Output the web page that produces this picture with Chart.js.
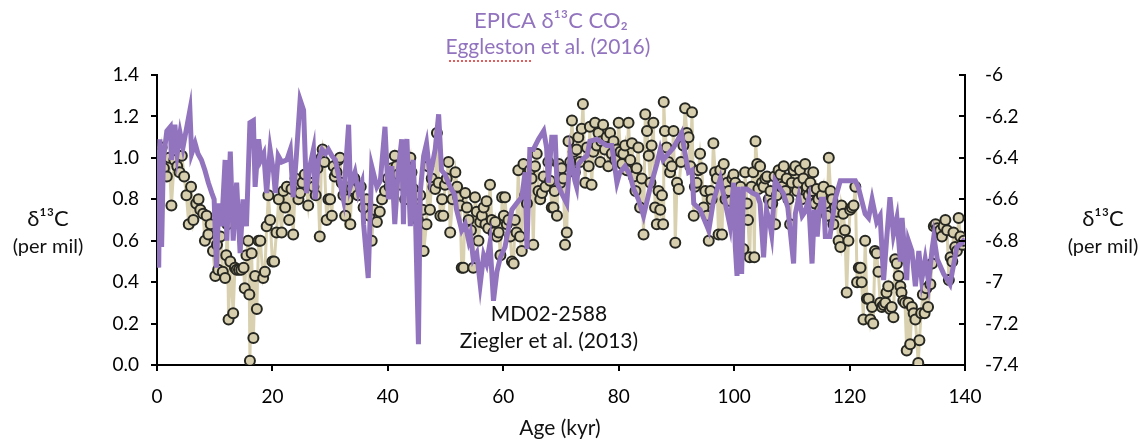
<!DOCTYPE html>
<html>
<head>
<meta charset="utf-8">
<script src="https://cdn.jsdelivr.net/npm/chart.js@4.4.0/dist/chart.umd.min.js"></script>
<style>
  html, body { margin: 0; padding: 0; background: #fff; }
  #wrap { width: 1139px; height: 439px; }
</style>
</head>
<body>
<div id="wrap"><canvas id="grafico" width="1139" height="439"></canvas></div>
<script>
// MD02-2588 (Ziegler et al. 2013), left axis
const mdAge = [0.0,0.4,0.8,1.2,1.7,2.1,2.5,3.0,3.5,3.9,4.3,4.7,5.1,5.5,5.9,6.3,6.8,7.2,7.5,8.0,8.3,8.6,8.9,9.3,9.7,10.1,10.4,10.6,11.0,11.4,11.8,12.0,12.2,12.4,12.7,13.2,13.5,13.8,14.2,14.6,15.0,15.2,15.5,15.8,16.0,16.1,16.4,16.7,17.0,17.3,17.6,17.9,18.4,18.7,19.0,19.3,19.6,20.0,20.3,20.7,21.1,21.6,21.9,22.2,22.5,22.9,23.3,23.6,24.0,24.5,24.8,25.2,25.6,26.2,26.6,27.1,27.5,27.8,28.2,28.5,28.7,29.0,29.4,29.7,30.0,30.3,30.6,30.8,31.1,31.4,31.7,32.0,32.3,32.6,33.0,33.5,33.7,34.2,34.8,35.3,35.8,36.3,36.8,37.2,37.6,38.1,38.6,39.0,39.5,40.0,40.3,40.7,41.2,41.5,41.8,42.2,42.6,43.0,43.5,43.9,44.1,44.4,44.8,45.2,45.6,46.0,46.2,46.7,47.0,47.3,47.6,47.9,48.2,48.5,48.8,49.1,49.4,49.6,49.9,50.2,50.5,50.8,51.2,51.7,52.0,52.2,52.5,52.8,53.1,53.4,53.7,54.0,54.4,54.8,55.1,55.4,55.7,56.0,56.3,56.6,56.9,57.1,57.4,57.7,58.0,58.3,58.6,58.9,59.2,59.5,59.8,60.1,60.3,60.6,60.9,61.2,61.5,61.8,62.0,62.3,62.6,62.9,63.2,63.5,63.8,64.1,64.6,64.9,65.2,65.5,65.8,66.1,66.4,66.7,67.0,67.3,67.8,68.1,68.4,68.7,68.9,69.3,69.6,69.9,70.1,70.4,70.7,71.0,71.3,71.6,71.9,72.2,72.4,72.7,73.0,73.3,73.6,73.8,74.2,74.5,74.8,75.0,75.3,75.6,75.9,76.2,76.5,76.8,77.0,77.3,77.6,77.9,78.2,78.5,78.8,79.1,79.4,79.7,80.0,80.3,80.6,80.8,81.1,81.4,81.7,82.0,82.3,82.6,82.9,83.1,83.4,83.7,84.0,84.3,84.6,84.9,85.2,85.5,85.7,86.0,86.3,86.6,86.9,87.2,87.5,87.7,87.8,88.0,88.3,88.6,88.9,89.2,89.5,89.8,90.1,90.4,90.8,91.2,91.5,91.8,92.1,92.4,92.7,93.0,93.2,93.5,93.8,94.1,94.4,94.7,95.0,95.3,95.6,95.9,96.1,96.4,96.7,97.0,97.3,97.6,97.9,98.2,98.5,98.8,99.1,99.4,99.7,99.9,100.2,100.5,100.8,101.1,101.4,101.6,101.9,102.2,102.4,102.7,103.0,103.3,103.5,103.7,104.0,104.2,104.5,104.8,105.1,105.4,105.7,106.0,106.3,106.6,107.0,107.1,107.4,107.7,108.0,108.3,108.6,108.9,109.1,109.4,109.7,110.0,110.3,110.6,110.9,111.1,111.4,111.7,112.0,112.3,112.6,112.9,113.2,113.5,113.7,114.0,114.3,114.6,114.9,115.2,115.5,115.8,116.1,116.4,116.7,117.0,117.2,117.5,117.8,118.1,118.4,118.6,118.9,119.2,119.5,119.8,120.1,120.4,120.7,121.0,121.3,121.6,121.9,122.1,122.4,122.7,123.0,123.3,123.6,123.9,124.1,124.4,124.7,125.0,125.3,125.6,125.9,126.2,126.4,126.7,127.0,127.3,127.6,127.9,128.2,128.5,128.8,129.0,129.3,129.6,129.9,130.2,130.5,130.8,131.1,131.4,131.9,132.1,132.4,132.7,133.0,133.3,133.6,134.0,134.3,134.6,134.9,135.2,135.4,135.7,136.0,136.3,136.6,136.9,137.2,137.5,137.8,138.0,138.3,138.6,138.9,139.2,139.5,139.8]
const mdD13C = [1.02,0.98,1.05,0.95,0.91,1.00,0.77,0.99,0.96,0.93,1.01,0.91,0.82,0.68,0.86,0.70,0.78,0.80,0.75,0.73,0.60,0.72,0.63,0.68,0.55,0.43,0.58,0.46,0.62,0.45,0.42,0.53,0.68,0.22,0.50,0.25,0.47,0.46,0.46,0.46,0.47,0.37,0.53,0.60,0.34,0.02,0.54,0.13,0.43,0.27,0.60,0.60,0.42,0.45,0.67,0.82,0.70,0.50,0.50,0.64,0.80,0.64,0.84,0.76,0.86,0.70,0.85,0.63,0.90,0.80,0.83,0.88,0.92,0.77,0.88,0.86,0.82,0.95,0.62,1.00,1.04,0.98,0.70,0.80,0.80,0.72,0.96,0.91,0.93,0.99,1.00,0.88,0.82,0.72,0.80,0.68,0.85,0.90,0.82,0.86,0.76,0.80,0.72,0.60,0.75,0.69,0.74,0.80,0.84,0.90,0.86,0.95,1.01,0.96,0.92,0.87,0.92,0.80,0.95,1.00,0.93,0.85,0.80,0.70,0.82,0.75,0.55,0.68,0.96,0.75,0.90,0.86,0.85,1.12,0.88,0.72,0.80,0.72,0.87,0.90,0.98,0.64,0.80,0.93,0.86,0.81,0.77,0.47,0.47,0.83,0.76,0.70,0.65,0.47,0.81,0.74,0.60,0.69,0.72,0.76,0.68,0.79,0.66,0.87,0.70,0.64,0.69,0.62,0.64,0.53,0.81,0.72,0.81,0.68,0.70,0.62,0.50,0.49,0.70,0.64,0.94,0.62,0.55,0.97,0.82,0.78,0.94,0.90,0.58,0.96,1.02,0.84,0.80,0.83,0.91,0.86,0.98,0.89,0.76,0.76,0.84,0.72,0.97,0.88,0.95,0.90,0.58,0.64,1.08,0.98,1.18,1.03,0.93,1.04,1.10,0.98,1.14,1.26,0.88,1.05,0.96,1.15,0.87,1.03,1.17,1.06,1.12,0.98,1.08,1.16,1.04,1.10,0.96,1.12,1.02,1.08,0.99,1.04,1.17,1.03,0.97,1.02,1.06,0.94,1.17,0.99,1.07,0.91,0.84,0.95,1.05,0.76,0.90,0.63,1.21,1.13,1.01,0.88,1.06,1.17,0.76,0.68,0.84,0.75,0.82,0.68,1.27,1.13,1.05,0.98,0.93,0.96,1.13,0.59,0.88,0.85,0.98,1.06,1.24,1.12,1.10,0.96,1.22,0.72,0.86,0.88,0.94,1.02,0.95,0.76,0.84,0.72,0.60,0.84,0.80,1.07,0.93,0.90,0.63,0.94,0.63,0.97,0.80,0.88,0.84,0.79,0.90,0.92,0.88,0.82,0.74,0.86,0.70,0.56,0.93,0.78,0.70,0.52,0.86,0.93,0.52,1.08,0.97,0.85,0.96,0.88,0.86,0.90,0.91,0.80,0.84,0.78,0.91,0.68,0.82,0.94,0.92,0.86,0.96,0.84,0.90,0.80,0.68,0.88,0.94,0.96,0.84,0.88,0.94,0.80,0.90,0.97,0.86,0.82,0.88,0.84,0.93,0.78,0.85,0.80,0.75,0.82,0.86,0.78,0.72,1.00,0.84,0.80,0.68,0.76,0.74,0.60,0.57,0.77,0.73,0.65,0.35,0.60,0.75,0.76,0.77,0.86,0.40,0.47,0.47,0.40,0.22,0.60,0.32,0.32,0.22,0.28,0.20,0.55,0.54,0.45,0.30,0.28,0.29,0.30,0.35,0.38,0.27,0.28,0.23,0.51,0.49,0.43,0.38,0.35,0.31,0.30,0.07,0.30,0.10,0.28,0.25,0.22,0.01,0.12,0.25,0.34,0.25,0.37,0.28,0.39,0.49,0.67,0.68,0.66,0.64,0.65,0.62,0.67,0.70,0.65,0.41,0.52,0.50,0.64,0.57,0.55,0.71,0.62,0.58,0.60]

// EPICA d13C CO2 (Eggleston et al. 2016), right axis
const epicaAge = [0.0,0.3,0.5,0.8,1.1,1.7,2.3,2.5,3.1,3.5,4.0,4.5,5.1,5.7,6.0,6.6,7.1,7.7,8.3,8.9,9.5,9.9,10.3,10.7,11.2,11.8,12.1,12.7,13.2,13.8,14.4,14.9,15.5,16.1,16.7,17.0,17.6,18.0,18.5,19.0,19.6,20.2,20.5,21.0,21.6,22.5,23.1,23.6,24.1,24.8,25.4,25.9,26.5,27.1,27.4,28.0,28.6,29.2,29.7,30.3,30.9,31.7,32.3,33.2,33.5,34.3,34.9,35.5,35.8,36.6,37.2,38.1,38.7,39.5,40.1,40.7,41.2,41.8,42.4,42.7,43.0,43.3,43.9,44.4,44.8,45.3,45.6,46.2,46.7,47.3,48.2,48.8,49.3,49.9,50.8,51.6,51.9,52.8,53.4,54.0,54.3,54.8,55.4,56.0,56.6,57.1,57.7,58.3,58.9,59.5,60.3,61.5,62.3,63.2,63.8,64.1,64.6,65.2,66.1,67.0,67.5,67.8,68.4,69.0,69.3,70.1,71.0,71.6,72.4,72.7,73.0,73.6,74.5,75.0,76.2,77.9,78.8,79.7,80.2,81.1,81.9,82.6,83.4,84.3,85.4,86.6,87.2,87.7,88.6,89.5,90.9,91.5,92.1,92.7,93.0,94.1,95.6,96.4,97.6,98.4,99.3,99.9,100.2,100.5,100.7,101.3,101.6,102.2,103.2,104.0,104.5,105.1,105.6,106.2,106.5,107.1,108.5,109.3,110.3,110.6,111.2,111.8,112.3,112.9,113.5,113.9,114.4,114.7,115.1,115.5,115.8,116.6,117.5,118.4,119.5,121.0,121.5,122.7,123.3,123.9,124.7,125.3,125.9,126.4,127.0,127.6,128.2,128.8,129.1,129.9,130.2,130.8,131.4,132.0,132.5,133.1,133.7,134.3,134.6,135.2,136.3,137.4,138.6,139.5,140.0]
const epicaD13C = [-6.36,-6.93,-6.31,-6.83,-6.41,-6.27,-6.25,-6.41,-6.24,-6.38,-6.28,-6.35,-6.26,-6.17,-6.38,-6.33,-6.38,-6.41,-6.46,-6.52,-6.57,-6.60,-6.93,-6.62,-6.73,-6.41,-6.80,-6.37,-6.80,-6.52,-6.86,-6.60,-6.73,-6.23,-6.22,-6.54,-6.31,-6.41,-6.38,-6.57,-6.36,-6.47,-6.57,-6.39,-6.42,-6.41,-6.36,-6.59,-6.41,-6.12,-6.17,-6.57,-6.44,-6.36,-6.60,-6.41,-6.36,-6.38,-6.36,-6.39,-6.41,-6.52,-6.60,-6.24,-6.54,-6.47,-6.57,-6.52,-6.72,-6.98,-6.44,-6.54,-6.51,-6.25,-6.60,-6.44,-6.72,-6.46,-6.31,-6.72,-6.37,-6.31,-6.73,-6.41,-6.70,-7.30,-6.57,-6.39,-6.33,-6.49,-6.36,-6.19,-6.46,-6.48,-6.54,-6.58,-6.65,-6.75,-6.72,-6.80,-6.77,-6.89,-6.86,-7.01,-6.87,-6.91,-6.81,-7.09,-6.95,-6.88,-6.83,-6.65,-6.62,-6.59,-6.47,-6.84,-6.36,-6.36,-6.31,-6.27,-6.35,-6.52,-6.30,-6.30,-6.52,-6.57,-6.62,-6.38,-6.51,-6.54,-6.43,-6.41,-6.39,-6.32,-6.31,-6.34,-6.34,-6.52,-6.47,-6.44,-6.48,-6.55,-6.60,-6.68,-6.55,-6.43,-6.36,-6.41,-6.38,-6.35,-6.28,-6.38,-6.47,-6.46,-6.62,-6.65,-6.75,-6.61,-6.50,-6.61,-6.73,-6.52,-6.83,-6.97,-6.54,-6.96,-6.55,-6.55,-6.57,-6.58,-6.62,-6.88,-6.65,-6.72,-6.77,-6.51,-6.57,-6.64,-6.91,-6.67,-6.59,-6.68,-6.66,-6.60,-6.91,-6.65,-6.78,-6.67,-6.60,-6.60,-6.78,-6.78,-6.60,-6.51,-6.51,-6.51,-6.54,-6.67,-6.69,-6.60,-6.71,-6.68,-6.99,-6.80,-6.59,-6.77,-6.69,-6.90,-6.69,-6.99,-6.80,-6.85,-7.02,-6.85,-6.99,-6.89,-7.00,-6.84,-6.78,-6.89,-6.96,-7.01,-6.83,-6.81,-6.79]

const xTicks = [0, 20, 40, 60, 80, 100, 120, 140]
const leftTicks = [0.0, 0.2, 0.4, 0.6, 0.8, 1.0, 1.2, 1.4]
const rightTicks = [-7.4, -7.2, -7, -6.8, -6.6, -6.4, -6.2, -6]

const FUENTE = 'Lato, "Open Sans", sans-serif'
const MORADO = 'rgb(146, 116, 190)'

// textos y marcas extra
const textosPlugin = {
    id: 'textos',
    afterDraw(chart) {
        const ctx = chart.ctx
        const y1 = chart.scales.y1
        const x = chart.scales.x
        ctx.save()
        // marcas hacia dentro en el eje derecho
        ctx.strokeStyle = '#000'
        ctx.lineWidth = 2
        rightTicks.forEach(v => {
            const py = Math.round(y1.getPixelForValue(v))
            ctx.beginPath()
            ctx.moveTo(y1.left, py)
            ctx.lineTo(y1.left - 6, py)
            ctx.stroke()
        })
        // el eje x asoma un poco a la izquierda
        ctx.beginPath()
        ctx.moveTo(x.left - 6, x.top)
        ctx.lineTo(x.left, x.top)
        ctx.stroke()
        ctx.textAlign = 'center'
        ctx.textBaseline = 'middle'
        // titulo arriba
        ctx.fillStyle = MORADO
        ctx.font = '22px ' + FUENTE
        ctx.fillText('EPICA δ¹³C CO₂', 551, 21)
        ctx.font = '21px ' + FUENTE
        ctx.fillText('Eggleston et al. (2016)', 548, 47)
        // subrayado ortografico
        ctx.strokeStyle = 'rgb(220, 40, 40)'
        ctx.lineWidth = 1.5
        ctx.setLineDash([2, 2])
        ctx.beginPath()
        ctx.moveTo(449, 61)
        ctx.lineTo(533, 61)
        ctx.stroke()
        ctx.setLineDash([])
        // ejes
        ctx.fillStyle = '#111'
        ctx.font = '22px ' + FUENTE
        ctx.fillText('δ¹³C', 48, 219)
        ctx.fillText('δ¹³C', 1103, 219)
        ctx.font = '20px ' + FUENTE
        ctx.fillText('(per mil)', 48, 247)
        ctx.fillText('(per mil)', 1103, 247)
        ctx.font = '21px ' + FUENTE
        ctx.fillText('Age (kyr)', 560, 428)
        // etiqueta serie
        ctx.fillText('MD02-2588', 549, 314)
        ctx.fillText('Ziegler et al. (2013)', 549, 341)
        ctx.restore()
    }
}

function generar_grafico() {
    const data = {
        datasets: [{
            label: 'EPICA',
            data: epicaAge.map((a, i) => ({ x: a, y: epicaD13C[i] })),
            yAxisID: 'y1',
            borderColor: MORADO,
            borderWidth: 5,
            pointRadius: 0,
            tension: 0,
            order: 0
        }, {
            label: 'MD02-2588',
            data: mdAge.map((a, i) => ({ x: a, y: mdD13C[i] })),
            yAxisID: 'y',
            borderColor: 'rgb(216, 208, 174)',
            borderWidth: 3,
            pointRadius: 5,
            pointBackgroundColor: 'rgb(214, 206, 172)',
            pointBorderColor: 'rgb(40, 40, 34)',
            pointBorderWidth: 2,
            tension: 0,
            order: 1
        }]
    }

    const config = {
        type: 'line',
        data: data,
        options: {
            responsive: false,
            animation: false,
            layout: { padding: { top: 75, left: 0, right: 0, bottom: 0 } },
            plugins: { legend: { display: false }, tooltip: { enabled: false } },
            scales: {
                x: {
                    type: 'linear', min: 0, max: 140,
                    afterBuildTicks: s => { s.ticks = xTicks.map(v => ({ value: v })) },
                    afterFit: s => { s.height = 74 },
                    border: { display: true, color: '#000', width: 2 },
                    grid: { drawOnChartArea: false, drawTicks: true, tickLength: 6, color: '#000', lineWidth: 2 },
                    ticks: { color: '#000', font: { family: FUENTE, size: 19 }, padding: 14, maxRotation: 0 }
                },
                y: {
                    position: 'left', min: 0, max: 1.4,
                    afterBuildTicks: s => { s.ticks = leftTicks.map(v => ({ value: v })) },
                    afterFit: s => { s.width = 157 },
                    border: { display: true, color: '#000', width: 2 },
                    grid: { drawOnChartArea: false, drawTicks: true, tickLength: 6, color: '#000', lineWidth: 2 },
                    ticks: { color: '#000', font: { family: FUENTE, size: 19 }, padding: 12, callback: v => v.toFixed(1) }
                },
                y1: {
                    position: 'right', min: -7.4, max: -6,
                    afterBuildTicks: s => { s.ticks = rightTicks.map(v => ({ value: v })) },
                    afterFit: s => { s.width = 174 },
                    border: { display: true, color: '#000', width: 2 },
                    grid: { drawOnChartArea: false, drawTicks: false },
                    ticks: { color: '#000', font: { family: FUENTE, size: 19 }, padding: 20, callback: v => String(Math.round(v * 10) / 10) }
                }
            }
        },
        plugins: [textosPlugin]
    }

    new Chart(document.getElementById('grafico'), config)
}

generar_grafico()
</script>
</body>
</html>
